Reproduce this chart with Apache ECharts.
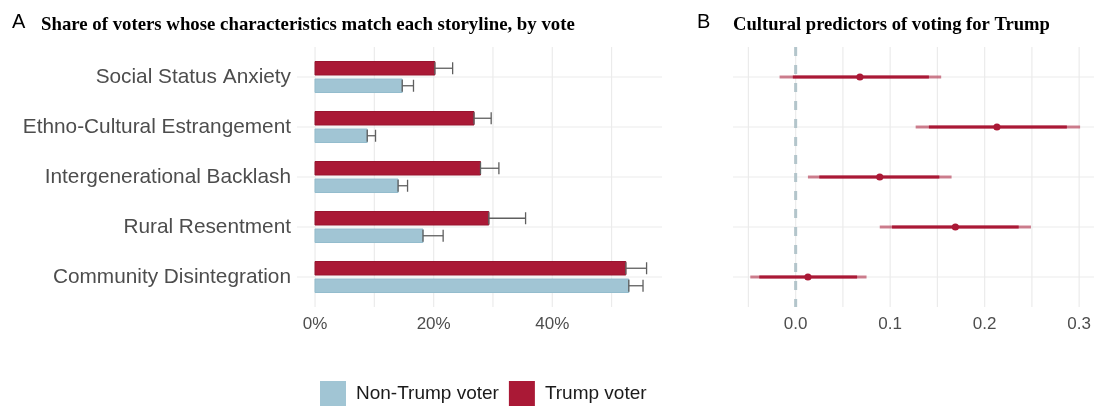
<!DOCTYPE html>
<html>
<head>
<meta charset="utf-8">
<script src="https://cdn.jsdelivr.net/npm/echarts@6/dist/echarts.min.js"></script>
<style>html,body{margin:0;padding:0;background:#fff}#c{width:1096px;height:406px}</style>
</head>
<body>
<div id="c"></div>
<script>
// ---- data ----
var categories = ["Social Status Anxiety", "Ethno-Cultural Estrangement", "Intergenerational Backlash", "Rural Resentment", "Community Disintegration"];
var trumpShare = [20.2, 26.8, 27.9, 29.3, 52.4];
var trumpUpper = [23.2, 29.7, 31.0, 35.5, 55.9];
var nonTrumpShare = [14.7, 8.8, 14.0, 18.2, 52.9];
var nonTrumpUpper = [16.6, 10.2, 15.6, 21.6, 55.3];
var coef = [0.068, 0.213, 0.089, 0.169, 0.013];
var ci90Low = [-0.003, 0.141, 0.025, 0.102, -0.0385];
var ci90High = [0.141, 0.287, 0.152, 0.236, 0.065];
var ci95Low = [-0.017, 0.127, 0.013, 0.089, -0.048];
var ci95High = [0.154, 0.301, 0.165, 0.249, 0.075];
var leftTicks = [0, 20, 40];
var leftGrid = [0, 10, 20, 30, 40, 50];
var rightTicks = [0, 0.1, 0.2, 0.3];
var rightGrid = [-0.05, 0, 0.05, 0.1, 0.15, 0.2, 0.25, 0.3];

var RED = '#aa1936', BLUE = '#a1c5d4';
var rows = categories.map(function (c, i) { return i + 1; });

function gridV(params, api) {
  var cs = params.coordSys;
  var x = api.coord([api.value(0), 1])[0];
  return { type: 'line', shape: { x1: x, y1: cs.y, x2: x, y2: cs.y + cs.height },
    style: { stroke: '#ebebeb', lineWidth: 1.2 }, silent: true };
}
function gridH(params, api) {
  var cs = params.coordSys;
  var y = api.coord([0, api.value(0)])[1];
  return { type: 'line', shape: { x1: cs.x, y1: y, x2: cs.x + cs.width, y2: y },
    style: { stroke: '#ebebeb', lineWidth: 1.2 }, silent: true };
}
function barRender(offset, fill, stroke) {
  return function (params, api) {
    var v = api.value(0), r = api.value(1);
    var a = api.coord([0, r + offset - 0.135]);
    var b = api.coord([v, r + offset + 0.135]);
    return { type: 'rect', shape: { x: a[0], y: Math.min(a[1], b[1]), width: b[0] - a[0], height: Math.abs(b[1] - a[1]) },
      style: { fill: fill, stroke: stroke, lineWidth: 1 } };
  };
}
function errRender(offset) {
  return function (params, api) {
    var lo = api.value(0), hi = api.value(1), r = api.value(2);
    var a = api.coord([lo, r + offset]);
    var b = api.coord([hi, r + offset]);
    var t = api.coord([lo, r + offset - 0.12])[1];
    var btm = api.coord([lo, r + offset + 0.12])[1];
    var st = { stroke: '#5f5f5f', lineWidth: 1.3 };
    return { type: 'group', children: [
      { type: 'line', shape: { x1: a[0], y1: a[1], x2: b[0], y2: b[1] }, style: st },
      { type: 'line', shape: { x1: a[0], y1: t, x2: a[0], y2: btm }, style: st },
      { type: 'line', shape: { x1: b[0], y1: t, x2: b[0], y2: btm }, style: st }
    ] };
  };
}
function ciRender(params, api) {
  var r = api.value(5);
  var o1 = api.coord([api.value(0), r]), o2 = api.coord([api.value(1), r]);
  var i1 = api.coord([api.value(2), r]), i2 = api.coord([api.value(3), r]);
  var p = api.coord([api.value(4), r]);
  return { type: 'group', children: [
    { type: 'line', shape: { x1: o1[0], y1: o1[1], x2: o2[0], y2: o2[1] }, style: { stroke: 'rgba(170,25,54,0.55)', lineWidth: 3 } },
    { type: 'line', shape: { x1: i1[0], y1: i1[1], x2: i2[0], y2: i2[1] }, style: { stroke: RED, lineWidth: 3 } },
    { type: 'circle', shape: { cx: p[0], cy: p[1], r: 3.6 }, style: { fill: RED } }
  ] };
}
function zeroRender(params, api) {
  var cs = params.coordSys;
  var x = api.coord([api.value(0), 1])[0];
  return { type: 'line', shape: { x1: x, y1: cs.y, x2: x, y2: cs.y + cs.height },
    style: { stroke: '#b3c5cb', lineWidth: 3, lineDash: [9, 9] }, silent: true };
}

var labelStyle = { fontFamily: 'Liberation Sans', color: '#4d4d4d' };

var option = {
  animation: false,
  title: [
    { text: 'A', left: 12, top: 12, padding: 0, textStyle: { fontFamily: 'Liberation Sans', fontSize: 20, fontWeight: 'normal', color: '#000' } },
    { text: 'Share of voters whose characteristics match each storyline, by vote', left: 41, top: 16, padding: 0,
      textStyle: { fontFamily: 'Liberation Serif', fontSize: 18.8, fontWeight: 'bold', color: '#000' } },
    { text: 'B', left: 697, top: 12, padding: 0, textStyle: { fontFamily: 'Liberation Sans', fontSize: 20, fontWeight: 'normal', color: '#000' } },
    { text: 'Cultural predictors of voting for Trump', left: 733, top: 16, padding: 0,
      textStyle: { fontFamily: 'Liberation Serif', fontSize: 18.6, fontWeight: 'bold', color: '#000' } }
  ],
  legend: {
    data: [{ name: 'Non-Trump voter', icon: 'rect' }, { name: 'Trump voter', icon: 'rect' }],
    left: 320, top: 381, padding: 0, itemWidth: 26, itemHeight: 25, itemGap: 10,
    textStyle: { fontFamily: 'Liberation Sans', fontSize: 19, color: '#1a1a1a', padding: [0, 0, 0, 5] }
  },
  grid: [
    { left: 297, width: 365, top: 47, height: 260 },
    { left: 733, width: 361, top: 47, height: 260 }
  ],
  xAxis: [
    { gridIndex: 0, type: 'value', min: -3.04, max: 58.5, splitLine: { show: false }, axisLine: { show: false }, axisTick: { show: false },
      axisLabel: Object.assign({ customValues: leftTicks, fontSize: 17, margin: 9, formatter: function (v) { return v + '%'; } }, labelStyle) },
    { gridIndex: 1, type: 'value', min: -0.0663, max: 0.3157, splitLine: { show: false }, axisLine: { show: false }, axisTick: { show: false },
      axisLabel: Object.assign({ customValues: rightTicks, fontSize: 17, margin: 9, formatter: function (v) { return v.toFixed(1); } }, labelStyle) }
  ],
  yAxis: [
    { gridIndex: 0, type: 'value', min: 0.4, max: 5.6, inverse: true, splitLine: { show: false }, axisLine: { show: false }, axisTick: { show: false },
      axisLabel: Object.assign({ customValues: rows, fontSize: 20.8, margin: 6, formatter: function (v) { return categories[Math.round(v) - 1]; } }, labelStyle) },
    { gridIndex: 1, type: 'value', min: 0.4, max: 5.6, inverse: true, splitLine: { show: false }, axisLine: { show: false }, axisTick: { show: false },
      axisLabel: { show: false } }
  ],
  series: [
    { type: 'custom', xAxisIndex: 0, yAxisIndex: 0, renderItem: gridV, data: leftGrid.map(function (v) { return [v]; }), encode: { x: 0 }, silent: true, z: 1 },
    { type: 'custom', xAxisIndex: 0, yAxisIndex: 0, renderItem: gridH, data: rows.map(function (v) { return [v]; }), encode: { y: 0 }, silent: true, z: 1 },
    { type: 'custom', xAxisIndex: 1, yAxisIndex: 1, renderItem: gridV, data: rightGrid.map(function (v) { return [v]; }), encode: { x: 0 }, silent: true, z: 1 },
    { type: 'custom', xAxisIndex: 1, yAxisIndex: 1, renderItem: gridH, data: rows.map(function (v) { return [v]; }), encode: { y: 0 }, silent: true, z: 1 },
    { name: 'Non-Trump voter', type: 'custom', xAxisIndex: 0, yAxisIndex: 0, itemStyle: { color: BLUE },
      renderItem: barRender(0.175, BLUE, '#93bccd'), data: nonTrumpShare.map(function (v, i) { return [v, rows[i]]; }), encode: { x: 0, y: 1 }, z: 2 },
    { name: 'Trump voter', type: 'custom', xAxisIndex: 0, yAxisIndex: 0, itemStyle: { color: RED },
      renderItem: barRender(-0.175, RED, '#98142f'), data: trumpShare.map(function (v, i) { return [v, rows[i]]; }), encode: { x: 0, y: 1 }, z: 2 },
    { type: 'custom', xAxisIndex: 0, yAxisIndex: 0, renderItem: errRender(0.175),
      data: nonTrumpShare.map(function (v, i) { return [v, nonTrumpUpper[i], rows[i]]; }), encode: { x: [0, 1], y: 2 }, z: 3 },
    { type: 'custom', xAxisIndex: 0, yAxisIndex: 0, renderItem: errRender(-0.175),
      data: trumpShare.map(function (v, i) { return [v, trumpUpper[i], rows[i]]; }), encode: { x: [0, 1], y: 2 }, z: 3 },
    { type: 'custom', xAxisIndex: 1, yAxisIndex: 1, renderItem: zeroRender, data: [[0]], encode: { x: 0 }, silent: true, z: 2 },
    { type: 'custom', xAxisIndex: 1, yAxisIndex: 1, renderItem: ciRender,
      data: coef.map(function (c, i) { return [ci95Low[i], ci95High[i], ci90Low[i], ci90High[i], c, rows[i]]; }),
      encode: { x: [0, 1, 2, 3, 4], y: 5 }, z: 3 }
  ]
};
var chart = echarts.init(document.getElementById('c'));
chart.setOption(option);
</script>
</body>
</html>
